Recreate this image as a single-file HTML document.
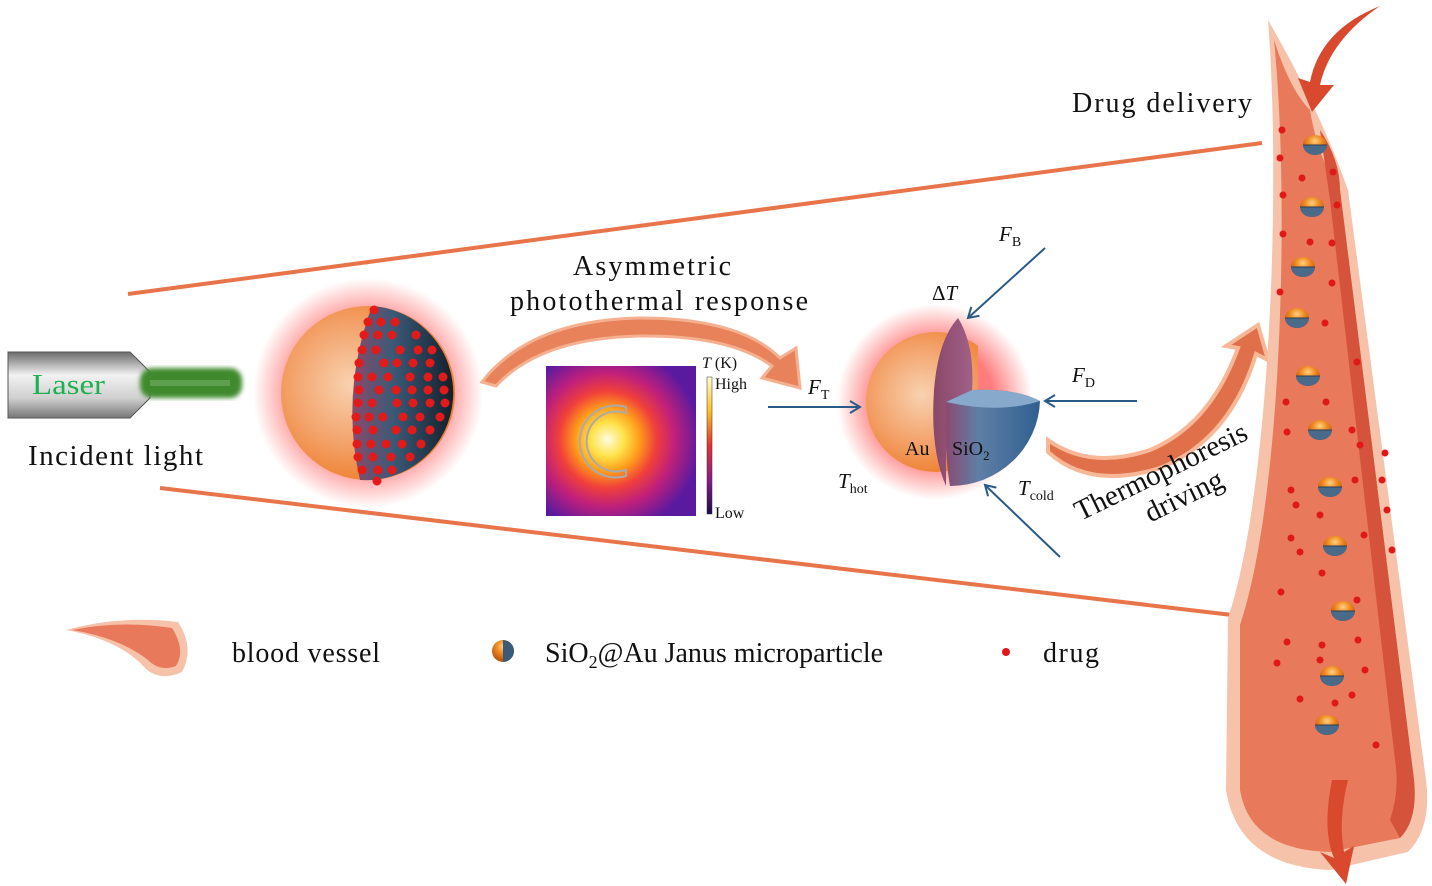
<!DOCTYPE html>
<html><head><meta charset="utf-8"><style>
html,body{margin:0;padding:0;background:#fff}
svg{display:block}
text{font-family:"Liberation Serif",serif;fill:#111}
</style></head><body>
<svg width="1432" height="886" viewBox="0 0 1432 886" xmlns="http://www.w3.org/2000/svg">
<defs>
<radialGradient id="glow" cx="50%" cy="50%" r="50%">
<stop offset="0.6" stop-color="#ff5050" stop-opacity="0.75"/>
<stop offset="1" stop-color="#ff5050" stop-opacity="0"/>
</radialGradient>
<radialGradient id="gold" cx="40%" cy="45%" r="60%">
<stop offset="0" stop-color="#f8d2b0"/>
<stop offset="0.6" stop-color="#f3a067"/>
<stop offset="1" stop-color="#ee7d2a"/>
</radialGradient>
<linearGradient id="dark" x1="0" y1="0" x2="1" y2="0">
<stop offset="0" stop-color="#8a4a6a"/>
<stop offset="0.4" stop-color="#3b5a78"/>
<stop offset="1" stop-color="#13202c"/>
</linearGradient>
<linearGradient id="silica" x1="0" y1="0" x2="1" y2="0">
<stop offset="0" stop-color="#8a4a70"/>
<stop offset="0.35" stop-color="#5f7fa5"/>
<stop offset="1" stop-color="#2f5f90"/>
</linearGradient>
<linearGradient id="slice" x1="0" y1="0" x2="1" y2="0">
<stop offset="0" stop-color="#8a4868"/>
<stop offset="1" stop-color="#a06088"/>
</linearGradient>
<linearGradient id="laser" x1="0" y1="0" x2="0" y2="1">
<stop offset="0" stop-color="#6a6a6a"/>
<stop offset="0.35" stop-color="#f2f2f2"/>
<stop offset="0.7" stop-color="#cfcfcf"/>
<stop offset="1" stop-color="#777"/>
</linearGradient>
<radialGradient id="heat" cx="41%" cy="49%" r="62%">
<stop offset="0" stop-color="#fffbe0"/>
<stop offset="0.18" stop-color="#ffe34a"/>
<stop offset="0.35" stop-color="#ff9a1a"/>
<stop offset="0.52" stop-color="#f0403a"/>
<stop offset="0.72" stop-color="#c0207a"/>
<stop offset="1" stop-color="#5a1aa0"/>
</radialGradient>
<linearGradient id="cbar" x1="0" y1="0" x2="0" y2="1">
<stop offset="0" stop-color="#fffbd0"/>
<stop offset="0.25" stop-color="#ffc020"/>
<stop offset="0.5" stop-color="#e83030"/>
<stop offset="0.75" stop-color="#8a1a8a"/>
<stop offset="1" stop-color="#1a0a50"/>
</linearGradient>
<radialGradient id="pball" cx="50%" cy="30%" r="60%">
<stop offset="0" stop-color="#ffd080"/>
<stop offset="0.5" stop-color="#f08a20"/>
<stop offset="1" stop-color="#c05a10"/>
</radialGradient>
<clipPath id="auclip"><path d="M850,300 L978,300 L978,402 L948,402 L948,500 L850,500 Z"/></clipPath>
<filter id="blur2"><feGaussianBlur stdDeviation="2.5"/></filter>
<marker id="ah" markerWidth="14" markerHeight="14" refX="12" refY="7" orient="auto" markerUnits="userSpaceOnUse">
<path d="M2,1 L12,7 L2,13" fill="none" stroke="#2a5a86" stroke-width="2"/>
</marker>
<g id="jp"><ellipse cx="0" cy="0" rx="12" ry="10" fill="url(#pball)"/><path d="M-12,0 A12,10 0 0 0 12,0 Z" fill="#4a6a8a"/><path d="M-12,0 L12,0" stroke="#2a4058" stroke-width="1"/></g>
</defs>

<!-- perspective lines -->
<line x1="128" y1="294" x2="1262" y2="143" stroke="#e8744a" stroke-width="4"/>
<line x1="160" y1="488" x2="1232" y2="615" stroke="#e8744a" stroke-width="4"/>

<!-- laser -->
<path d="M8,352 L130,352 L150,372 L150,398 L130,418 L8,418 Z" fill="url(#laser)" stroke="#555" stroke-width="1"/>
<rect x="140" y="368" width="102" height="30" rx="12" fill="#3f8a2e" filter="url(#blur2)"/>
<rect x="150" y="380" width="80" height="6" fill="#6aa85a" opacity="0.7"/>
<text x="32" y="394" font-size="29" textLength="73" lengthAdjust="spacingAndGlyphs" style="fill:#1fb050">Laser</text>
<text x="28" y="465" font-size="29" textLength="175" lengthAdjust="spacing">Incident light</text>

<!-- sphere 1 -->
<circle cx="368" cy="393" r="115" fill="url(#glow)"/>
<circle cx="368" cy="393" r="87" fill="url(#gold)"/>
<path d="M372,306 A87,87 0 0 1 360,480 Q340,393 372,306 Z" fill="url(#dark)"/>
<g fill="#e21a1a">
<circle cx="374" cy="310" r="4.5"/>
<circle cx="368" cy="322" r="4.5"/><circle cx="381" cy="322" r="4.5"/><circle cx="395" cy="322" r="4.5"/>
<circle cx="364" cy="335" r="4.5"/><circle cx="378" cy="335" r="4.5"/><circle cx="392" cy="335" r="4.5"/><circle cx="416" cy="335" r="4.5"/>
<circle cx="362" cy="350" r="4.5"/><circle cx="376" cy="350" r="4.5"/><circle cx="400" cy="350" r="4.5"/><circle cx="418" cy="350" r="4.5"/><circle cx="432" cy="350" r="4.5"/>
<circle cx="359" cy="363" r="4.5"/><circle cx="384" cy="363" r="4.5"/><circle cx="397" cy="363" r="4.5"/><circle cx="413" cy="363" r="4.5"/><circle cx="430" cy="363" r="4.5"/>
<circle cx="358" cy="377" r="4.5"/><circle cx="372" cy="377" r="4.5"/><circle cx="388" cy="377" r="4.5"/><circle cx="410" cy="377" r="4.5"/><circle cx="428" cy="377" r="4.5"/><circle cx="443" cy="377" r="4.5"/>
<circle cx="359" cy="390" r="4.5"/><circle cx="379" cy="390" r="4.5"/><circle cx="396" cy="390" r="4.5"/><circle cx="412" cy="390" r="4.5"/><circle cx="428" cy="390" r="4.5"/><circle cx="444" cy="390" r="4.5"/>
<circle cx="358" cy="403" r="4.5"/><circle cx="372" cy="403" r="4.5"/><circle cx="397" cy="403" r="4.5"/><circle cx="413" cy="403" r="4.5"/><circle cx="430" cy="403" r="4.5"/><circle cx="445" cy="403" r="4.5"/>
<circle cx="356" cy="417" r="4.5"/><circle cx="369" cy="417" r="4.5"/><circle cx="383" cy="417" r="4.5"/><circle cx="403" cy="417" r="4.5"/><circle cx="420" cy="417" r="4.5"/><circle cx="440" cy="417" r="4.5"/>
<circle cx="357" cy="430" r="4.5"/><circle cx="373" cy="430" r="4.5"/><circle cx="396" cy="430" r="4.5"/><circle cx="412" cy="430" r="4.5"/><circle cx="430" cy="430" r="4.5"/>
<circle cx="357" cy="444" r="4.5"/><circle cx="371" cy="444" r="4.5"/><circle cx="386" cy="444" r="4.5"/><circle cx="402" cy="444" r="4.5"/><circle cx="421" cy="444" r="4.5"/>
<circle cx="358" cy="457" r="4.5"/><circle cx="373" cy="457" r="4.5"/><circle cx="391" cy="457" r="4.5"/><circle cx="410" cy="457" r="4.5"/>
<circle cx="362" cy="470" r="4.5"/><circle cx="378" cy="470" r="4.5"/><circle cx="392" cy="470" r="4.5"/>
<circle cx="377" cy="481" r="4.5"/>
</g>

<!-- curved arrow 1 -->
<path d="M482,382 Q530,320 640,318 Q740,318 780,358 L796,348 L800,388 L762,378 L772,366 Q730,335 640,336 Q540,338 496,386 Z" fill="#e8825a" stroke="#f5b090" stroke-width="3"/>
<text x="573" y="275" font-size="28" textLength="158" lengthAdjust="spacing">Asymmetric</text>
<text x="510" y="310" font-size="28" textLength="298" lengthAdjust="spacing">photothermal response</text>

<!-- heat map -->
<rect x="546" y="366" width="150" height="150" fill="url(#heat)"/>
<path d="M626,413 A30,30 0 1 0 626,470 L626,476 A36,36 0 1 1 626,407 Z" fill="none" stroke="#aaa" stroke-width="2"/>
<rect x="707" y="377" width="5" height="137" fill="url(#cbar)" stroke="#333" stroke-width="0.5"/>
<text x="702" y="368" font-size="16"><tspan font-style="italic">T</tspan> (K)</text>
<text x="715" y="389" font-size="16">High</text>
<text x="715" y="518" font-size="16">Low</text>

<!-- sphere 2 -->
<circle cx="935" cy="402" r="98" fill="url(#glow)"/>
<circle cx="936" cy="402" r="70" fill="url(#gold)" clip-path="url(#auclip)"/>
<path d="M958,318 Q975,345 972,392 L946,402 L946,486 Q930,450 934,390 Q938,340 958,318 Z" fill="url(#slice)"/>
<path d="M946,402 L972,390 Q1015,388 1040,401 A90,88 0 0 1 950,486 Q944,450 946,402 Z" fill="url(#silica)"/>
<path d="M972,390 Q1015,388 1040,401 Q1000,414 946,402 Z" fill="#86a9cc"/>
<text x="905" y="455" font-size="20">Au</text>
<text x="952" y="455" font-size="20">SiO<tspan font-size="13" dy="5">2</tspan></text>

<!-- force arrows -->
<line x1="768" y1="407" x2="860" y2="407" stroke="#2a5a86" stroke-width="2" marker-end="url(#ah)"/>
<line x1="1045" y1="248" x2="968" y2="318" stroke="#2a5a86" stroke-width="2" marker-end="url(#ah)"/>
<line x1="1137" y1="401" x2="1045" y2="401" stroke="#2a5a86" stroke-width="2" marker-end="url(#ah)"/>
<line x1="1060" y1="557" x2="985" y2="485" stroke="#2a5a86" stroke-width="2" marker-end="url(#ah)"/>
<text x="999" y="241" font-size="21" font-style="italic">F<tspan font-size="14" dy="5" font-style="normal">B</tspan></text>
<text x="932" y="300" font-size="21">Δ<tspan font-style="italic">T</tspan></text>
<text x="808" y="394" font-size="21" font-style="italic">F<tspan font-size="14" dy="5" font-style="normal">T</tspan></text>
<text x="1072" y="382" font-size="21" font-style="italic">F<tspan font-size="14" dy="5" font-style="normal">D</tspan></text>
<text x="838" y="488" font-size="21" font-style="italic">T<tspan font-size="14" dy="5" font-style="normal">hot</tspan></text>
<text x="1018" y="495" font-size="21" font-style="italic">T<tspan font-size="14" dy="5" font-style="normal">cold</tspan></text>

<!-- curved arrow 2 -->
<path d="M1048,440 Q1090,470 1150,450 Q1210,425 1238,348 L1226,346 L1258,325 L1268,360 L1256,354 Q1230,440 1160,468 Q1090,490 1048,452 Z" fill="#e0704a" stroke="#f8b898" stroke-width="4"/>
<g transform="translate(1165,480) rotate(-26)">
<text x="0" y="0" font-size="29" text-anchor="middle">Thermophoresis</text>
<text x="10" y="32" font-size="29" text-anchor="middle">driving</text>
</g>

<!-- blood vessel -->
<path d="M1268,20 C1282,200 1268,500 1228,618 L1226,790 Q1238,866 1330,870 L1408,852 Q1432,828 1426,780 L1348,190 Q1320,110 1268,20 Z" fill="#f6c2aa"/>
<path d="M1274,40 C1290,200 1282,500 1240,625 L1240,790 Q1250,850 1330,852 L1400,838 Q1418,818 1414,780 L1340,190 Q1318,160 1310,110 Q1290,90 1274,40 Z" fill="#e8795a"/>
<path d="M1320,130 Q1340,160 1340,190 L1414,780 Q1418,820 1400,838 L1390,820 Q1400,790 1395,760 L1330,200 Z" fill="#d4533a"/>
<path d="M1380,6 Q1330,40 1320,85 L1334,85 L1312,112 L1298,78 L1310,82 Q1320,30 1380,6 Z" fill="#d9492e"/>
<path d="M1332,780 Q1322,830 1334,858 L1320,852 L1346,884 L1354,846 L1344,852 Q1338,820 1348,780 Z" fill="#d9492e"/>
<text x="1072" y="112" font-size="28" textLength="180" lengthAdjust="spacing">Drug delivery</text>
<g fill="#e01818">
<circle cx="1282" cy="130" r="3.5"/><circle cx="1280" cy="158" r="3.5"/><circle cx="1302" cy="178" r="3.5"/><circle cx="1333" cy="172" r="3.5"/><circle cx="1283" cy="195" r="3.5"/><circle cx="1337" cy="205" r="3.5"/>
<circle cx="1283" cy="234" r="3.5"/><circle cx="1310" cy="242" r="3.5"/><circle cx="1332" cy="243" r="3.5"/><circle cx="1280" cy="292" r="3.5"/><circle cx="1332" cy="283" r="3.5"/><circle cx="1325" cy="323" r="3.5"/>
<circle cx="1357" cy="362" r="3.5"/><circle cx="1286" cy="402" r="3.5"/><circle cx="1326" cy="402" r="3.5"/><circle cx="1352" cy="430" r="3.5"/><circle cx="1287" cy="432" r="3.5"/>
<circle cx="1360" cy="445" r="3.5"/><circle cx="1385" cy="453" r="3.5"/><circle cx="1382" cy="480" r="3.5"/><circle cx="1355" cy="480" r="3.5"/><circle cx="1387" cy="510" r="3.5"/>
<circle cx="1291" cy="490" r="3.5"/><circle cx="1296" cy="505" r="3.5"/><circle cx="1320" cy="515" r="3.5"/><circle cx="1291" cy="538" r="3.5"/><circle cx="1300" cy="552" r="3.5"/>
<circle cx="1364" cy="535" r="3.5"/><circle cx="1392" cy="550" r="3.5"/><circle cx="1322" cy="573" r="3.5"/><circle cx="1357" cy="600" r="3.5"/><circle cx="1281" cy="592" r="3.5"/>
<circle cx="1287" cy="642" r="3.5"/><circle cx="1277" cy="663" r="3.5"/><circle cx="1300" cy="699" r="3.5"/><circle cx="1322" cy="645" r="3.5"/><circle cx="1320" cy="660" r="3.5"/>
<circle cx="1358" cy="640" r="3.5"/><circle cx="1352" cy="695" r="3.5"/><circle cx="1365" cy="670" r="3.5"/><circle cx="1335" cy="703" r="3.5"/><circle cx="1376" cy="745" r="3.5"/>
</g>
<use href="#jp" x="1315" y="145"/><use href="#jp" x="1312" y="207"/><use href="#jp" x="1303" y="267"/><use href="#jp" x="1297" y="318"/>
<use href="#jp" x="1308" y="376"/><use href="#jp" x="1320" y="430"/><use href="#jp" x="1330" y="487"/><use href="#jp" x="1335" y="546"/>
<use href="#jp" x="1343" y="611"/><use href="#jp" x="1332" y="676"/><use href="#jp" x="1327" y="725"/>

<!-- legend -->
<path d="M66,630 Q120,615 178,622 Q195,648 182,672 Q160,682 145,668 Q120,640 66,630 Z" fill="#f6c2aa"/>
<path d="M72,630 Q120,620 172,628 Q186,650 176,666 Q160,672 148,660 Q120,638 72,630 Z" fill="#e8795a"/>
<text x="232" y="662" font-size="28" textLength="148" lengthAdjust="spacing">blood vessel</text>
<g transform="translate(503,651)"><circle r="11" fill="url(#pball)"/><path d="M0,-11 A11,11 0 0 1 0,11 Z" fill="#3a5a7a"/></g>
<text x="545" y="662" font-size="28">SiO<tspan font-size="18" dy="6">2</tspan><tspan dy="-6">@Au Janus microparticle</tspan></text>
<circle cx="1006" cy="652" r="4" fill="#e01818"/>
<text x="1043" y="662" font-size="28" textLength="56" lengthAdjust="spacing">drug</text>
</svg>
</body></html>
